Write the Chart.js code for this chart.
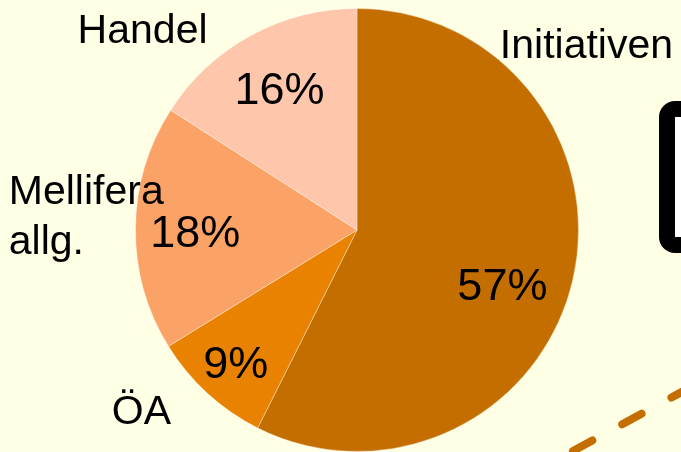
<!DOCTYPE html>
<html lang="sv">
<head>
  <meta charset="UTF-8" />
  <title>Andelar</title>
  <script src="https://cdn.jsdelivr.net/npm/chart.js"></script>
  <style>
    html, body {
      margin: 0;
      padding: 0;
      background: #ffffe6;
      overflow: hidden;
    }
    canvas { display: block; }
  </style>
</head>
<body>
  <canvas id="pie" width="681" height="452"></canvas>

  <script>
    // data, clockwise from 12 o'clock
    const categories = ['Initiativen', 'ÖA', 'Mellifera allg.', 'Handel'];
    const shares = [57.4, 8.8, 17.9, 15.9];
    const sliceColors = ['#c46e00', '#e88200', '#fba367', '#fec6aa'];

    // where the text goes, in units of the pie radius
    const pctRadius = [0.70, 0.81, 0.73, 0.73];
    const pctShiftDeg = [7, 0, -1, 0];
    const nameAnchor = [
      { dx: 1.036, dy: -0.842, align: 'center' },
      { dx: -0.973, dy: 0.81, align: 'center' },
      { dx: -1.572, dy: -0.072, align: 'left' },
      { dx: -0.968, dy: -0.91, align: 'center' }
    ];

    const FONT = '"Liberation Sans", Arial, sans-serif';

    function capText(ctx, lines, x, cy, size, align) {
      ctx.font = size + 'px ' + FONT;
      ctx.textAlign = align;
      ctx.textBaseline = 'alphabetic';
      const lh = size * 1.22;
      const top = cy - (lines.length - 1) * lh / 2;
      lines.forEach((t, i) => {
        ctx.fillText(t, x, top + i * lh + size * 0.358);
      });
    }

    const labelPlugin = {
      id: 'sliceLabels',
      beforeDraw(chart) {
        const ctx = chart.ctx;
        ctx.save();
        // frame peeking in at the right edge
        ctx.fillStyle = '#ffffff';
        ctx.strokeStyle = '#000000';
        ctx.lineWidth = 16;
        ctx.beginPath();
        ctx.roundRect(667, 109, 80, 136, 8);
        ctx.fill();
        ctx.stroke();
        // dashed connector bottom right
        ctx.strokeStyle = '#c46e00';
        ctx.lineWidth = 8;
        ctx.lineCap = 'round';
        ctx.setLineDash([22, 34]);
        ctx.beginPath();
        ctx.moveTo(573, 451);
        ctx.lineTo(700, 382);
        ctx.stroke();
        ctx.restore();
      },
      afterDatasetsDraw(chart) {
        const ctx = chart.ctx;
        const arcs = chart.getDatasetMeta(0).data;
        const total = shares.reduce((a, b) => a + b, 0);
        ctx.save();
        ctx.fillStyle = '#000000';
        arcs.forEach((arc, i) => {
          const p = arc.getProps(['x', 'y', 'startAngle', 'endAngle', 'outerRadius'], true);
          const mid = (p.startAngle + p.endAngle) / 2 + pctShiftDeg[i] * Math.PI / 180;
          const r = p.outerRadius * pctRadius[i];
          const pct = Math.round(shares[i] / total * 100) + '%';
          capText(ctx, [pct], p.x + Math.cos(mid) * r, p.y + Math.sin(mid) * r, 45, 'center');

          const a = nameAnchor[i];
          const nx = p.x + a.dx * p.outerRadius;
          const ny = p.y + a.dy * p.outerRadius;
          const lines = categories[i] === 'Mellifera allg.' ? ['Mellifera', 'allg.'] : [categories[i]];
          capText(ctx, lines, nx, ny, 41, a.align);
        });
        ctx.restore();
      }
    };

    new Chart(document.getElementById('pie'), {
      type: 'pie',
      data: {
        labels: categories,
        datasets: [{
          data: shares,
          backgroundColor: sliceColors,
          borderColor: 'rgba(255, 255, 255, 0.35)',
          borderWidth: 1
        }]
      },
      options: {
        responsive: false,
        animation: false,
        layout: { padding: { left: 135, right: 102, top: 8, bottom: 0 } },
        plugins: {
          legend: { display: false },
          tooltip: { enabled: false }
        }
      },
      plugins: [labelPlugin]
    });
  </script>
</body>
</html>
